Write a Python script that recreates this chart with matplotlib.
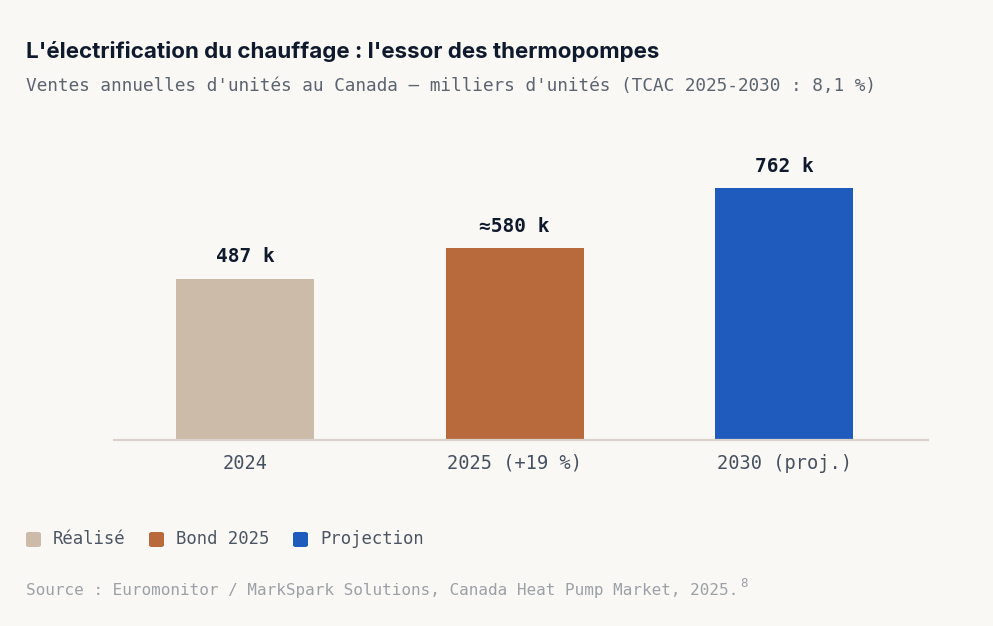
import matplotlib
matplotlib.use("Agg")
import matplotlib.pyplot as plt
from matplotlib.patches import FancyBboxPatch

categories = ["2024", "2025 (+19 %)", "2030 (proj.)"]
values = [487, 580, 762]
value_labels = ["487 k", "≈580 k", "762 k"]
colors = ["#cdbba9", "#b86a3c", "#1e5bbd"]
legend_labels = ["Réalisé", "Bond 2025", "Projection"]

BG = "#faf8f5"
W, H = 993, 626
fig = plt.figure(figsize=(W / 100, H / 100), dpi=100, facecolor=BG)

def fx(px):
    return px / W

def fy(py):
    return 1 - py / H

# axes: x from 114 to 928 px, baseline at 440, ylim 0..900 -> top
ymax = 900
px_per_unit = 161 / 487
ax_h = ymax * px_per_unit
ax = fig.add_axes([fx(114), fy(440), (928 - 114) / W, ax_h / H])
ax.set_facecolor(BG)
x = list(range(len(categories)))
ax.bar(x, values, width=0.512, color=colors, zorder=2)
ax.set_xlim(-0.486, 2.534)
ax.set_ylim(0, ymax)
for s in ["top", "right", "left"]:
    ax.spines[s].set_visible(False)
ax.spines["bottom"].set_color("#d9d3cb")
ax.spines["bottom"].set_linewidth(1.6)
ax.set_yticks([])
ax.set_xticks(x)
ax.set_xticklabels(categories, family="DejaVu Sans Mono", fontsize=13.4, color="#465160")
ax.tick_params(axis="x", length=0, pad=10)

for xi, v, lab in zip(x, values, value_labels):
    ax.annotate(lab, (xi, v), xytext=(0, 9), textcoords="offset points",
                ha="center", va="bottom", family="DejaVu Sans Mono",
                fontsize=14, fontweight="bold", color="#0f1b2d")

fig.text(fx(26), fy(58), "L'électrification du chauffage : l'essor des thermopompes",
         family="Inter", fontweight="bold", fontsize=16.1, color="#0f1b2d", va="baseline")
fig.text(fx(26), fy(91),
         "Ventes annuelles d'unités au Canada — milliers d'unités (TCAC 2025-2030 : 8,1 %)",
         family="DejaVu Sans Mono", fontsize=12.8, color="#5b6470", va="baseline")

# legend
leg_x = [26, 149, 293]
for lx, lab, c in zip(leg_x, legend_labels, colors):
    p = FancyBboxPatch((fx(lx), fy(547)), fx(15), 15 / H,
                       boxstyle="round,pad=0,rounding_size=0.003",
                       transform=fig.transFigure, facecolor=c, edgecolor="none")
    fig.patches.append(p)
    fig.text(fx(lx + 27), fy(539), lab, family="DejaVu Sans Mono", fontsize=12.4,
             color="#4b5563", va="center")

fig.text(fx(26), fy(595),
         "Source : Euromonitor / MarkSpark Solutions, Canada Heat Pump Market, 2025.",
         family="DejaVu Sans Mono", fontsize=11.55, color="#9ca1a8", va="baseline")
fig.text(fx(740), fy(587), "8", family="DejaVu Sans Mono", fontsize=9,
         color="#9ca1a8", va="baseline")

fig.savefig("out.png", dpi=100, facecolor=BG)
